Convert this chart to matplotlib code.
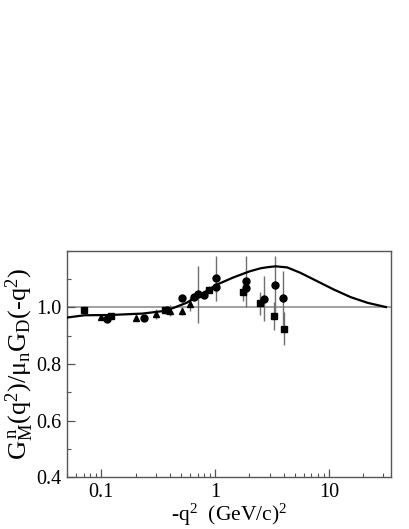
import numpy as np
import matplotlib
matplotlib.use('Agg')
import matplotlib.pyplot as plt
from matplotlib.ticker import LogLocator, NullFormatter, MultipleLocator, FixedFormatter, FixedLocator

plt.rcParams['font.family'] = ['Liberation Serif', 'DejaVu Serif']
plt.rcParams['mathtext.fontset'] = 'custom'
plt.rcParams['mathtext.rm'] = 'Liberation Serif'
plt.rcParams['mathtext.it'] = 'Liberation Serif'

# data
sq_x = [0.071, 0.122, 0.362, 0.891, 1.755, 2.49, 3.27, 4.0]
sq_y = [0.990, 0.970, 0.991, 1.063, 1.053, 1.014, 0.970, 0.925]
sq_e = [0.005, 0.005, 0.008, 0.012, 0.030, 0.040, 0.050, 0.058]

ci_x = [0.111, 0.237, 0.380, 0.509, 0.657, 0.704, 0.790, 1.006, 1.020, 1.870, 1.870, 2.67, 3.34, 3.92]
ci_y = [0.958, 0.964, 0.991, 1.034, 1.036, 1.046, 1.043, 1.102, 1.071, 1.092, 1.069, 1.030, 1.080, 1.034]
ci_e = [0.010, 0.005, 0.008, 0.010, 0.015, 0.100, 0.010, 0.080, 0.020, 0.090, 0.020, 0.080, 0.100, 0.095]

tr_x = [0.100, 0.200, 0.302, 0.401, 0.509, 0.600]
tr_y = [0.965, 0.962, 0.977, 0.988, 0.987, 1.012]
tr_e = [0.008, 0.010, 0.018, 0.020, 0.015, 0.025]

# theory curve
cv_x = [0.05, 0.071, 0.12, 0.23, 0.35, 0.43, 0.56, 0.74, 1.03, 1.45, 2.0, 2.5, 2.9, 3.4,
        4.3, 5.6, 7.9, 11.0, 15.5, 21.8, 31.6]
cv_y = [0.964, 0.972, 0.973, 0.978, 0.987, 0.998, 1.016, 1.045, 1.080, 1.106, 1.127, 1.138, 1.142, 1.145,
        1.141, 1.122, 1.092, 1.063, 1.036, 1.016, 1.001]

fig = plt.figure(figsize=(4.09, 5.29), dpi=100)
ax = fig.add_axes([0.164, 0.098, 0.792, 0.428])

ax.axhline(1.0, color='#999999', lw=1.3, zorder=1)

ebar = dict(fmt='none', ecolor='#707070', elinewidth=1.0, capsize=0, zorder=2)
ax.errorbar(sq_x, sq_y, yerr=sq_e, **ebar)
ax.errorbar(ci_x, ci_y, yerr=ci_e, **ebar)
ax.errorbar(tr_x, tr_y, yerr=tr_e, **ebar)

ax.plot(sq_x, sq_y, 's', color='black', ms=4.5, zorder=3)
ax.plot(ci_x, ci_y, 'o', color='black', ms=5, zorder=3)
ax.plot(tr_x, tr_y, '^', color='black', ms=5, zorder=3)

ax.plot(cv_x, cv_y, '-', color='black', lw=1.6, zorder=4)

ax.set_xscale('log')
ax.set_xlim(0.05, 35)
ax.set_ylim(0.4, 1.2)

ax.xaxis.set_major_locator(FixedLocator([0.1, 1, 10]))
ax.xaxis.set_major_formatter(FixedFormatter(['0.1', '1', '10']))
ax.xaxis.set_minor_locator(LogLocator(base=10, subs=np.arange(2, 10) * 1.0, numticks=20))
ax.xaxis.set_minor_formatter(NullFormatter())
ax.yaxis.set_major_locator(FixedLocator([0.4, 0.6, 0.8, 1.0]))
ax.yaxis.set_major_formatter(FixedFormatter(['0.4', '0.6', '0.8', '1.0']))
ax.yaxis.set_minor_locator(MultipleLocator(0.1))

ax.tick_params(which='both', direction='in', top=False, right=False, color='#555555')
ax.tick_params(which='major', length=6, width=0.9, labelsize=14.5, pad=4)
ax.tick_params(which='minor', length=3, width=0.8)
for s in ax.spines.values():
    s.set_color('#555555')
    s.set_linewidth(1.0)

ax.set_xlabel('-q$^2$  (GeV/c)$^2$', fontsize=15.5, labelpad=0)
ax.set_ylabel('G$_M^{\\,n}$(q$^2$)/\u03bc$_n$G$_D$(-q$^2$)', fontsize=19, labelpad=0)

fig.savefig('out.png', dpi=100)
